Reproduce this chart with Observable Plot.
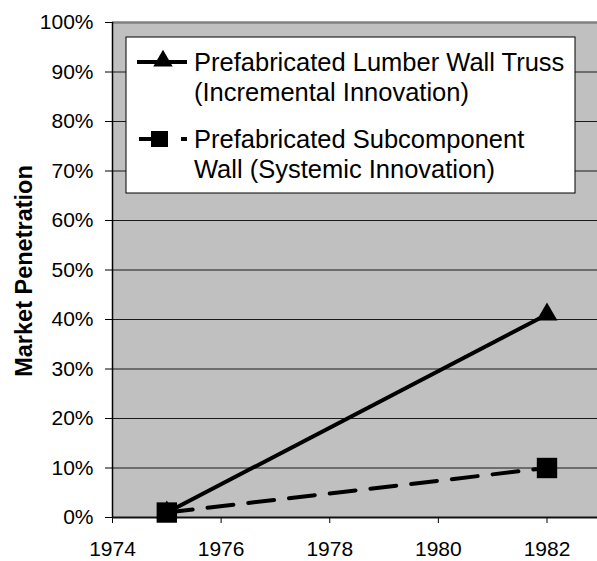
<!DOCTYPE html>
<html><head><meta charset="utf-8">
<script src="https://cdn.jsdelivr.net/npm/d3@7"></script>
<script src="https://cdn.jsdelivr.net/npm/@observablehq/plot@0.6"></script>
<style>
body{margin:0;background:#fff;}
svg{display:block;font-family:"Liberation Sans",Arial,sans-serif;}
</style>
</head><body><div id="chart"></div>
<script>
const years = [1975, 1982];
const trussValues = [0.01, 0.41];
const wallValues = [0.01, 0.10];
const legendLines1 = ["Prefabricated Lumber Wall Truss", "(Incremental Innovation)"];
const legendLines2 = ["Prefabricated Subcomponent", "Wall (Systemic Innovation)"];
const xTicks = [1974, 1976, 1978, 1980, 1982];
const yTicks = [0, 0.1, 0.2, 0.3, 0.4, 0.5, 0.6, 0.7, 0.8, 0.9, 1.0];
const yTitle = "Market Penetration";

const truss = years.map((y, i) => ({year: y, value: trussValues[i]}));
const wall = years.map((y, i) => ({year: y, value: wallValues[i]}));

const chart = Plot.plot({
  width: 597, height: 561,
  marginLeft: 112, marginRight: 0, marginTop: 22, marginBottom: 44,
  style: {fontFamily: '"Liberation Sans", Arial, sans-serif', background: "#fff"},
  x: {domain: [1974, 1982.93], label: null},
  y: {domain: [0, 1], label: null},
  marks: [
    Plot.frame({fill: "#c0c0c0", stroke: null}),
    Plot.ruleY(yTicks.filter(d => d > 0 && d < 1), {stroke: "#1a1a1a", strokeWidth: 1}),
    Plot.ruleY([1], {stroke: "#808080", strokeWidth: 2.5}),
    Plot.axisY({ticks: yTicks, tickFormat: d3.format(".0%"), tickSize: 7, tickPadding: 12, fontSize: 21, stroke: "#000", color: "#000", label: null}),
    Plot.axisX({ticks: xTicks, tickFormat: "d", tickSize: 6, tickPadding: 18, fontSize: 21, stroke: "#000", color: "#000", label: null}),
    Plot.ruleY([0], {stroke: "#111", strokeWidth: 2}),
    Plot.ruleX([1974], {stroke: "#000", strokeWidth: 1.5}),
    Plot.line(truss, {x: "year", y: "value", stroke: "#000", strokeWidth: 4}),
    Plot.line(wall, {x: "year", y: "value", stroke: "#000", strokeWidth: 4, strokeDasharray: "26,15"}),
    Plot.dot(truss, {x: "year", y: "value", symbol: "triangle", r: 7.8, fill: "#000", stroke: null}),
    Plot.dot(wall, {x: "year", y: "value", symbol: "square", r: 11.5, fill: "#000", stroke: null})
  ]
});

const svg = d3.select(chart);
// y-axis title
svg.append("text")
  .attr("transform", "translate(32,271) rotate(-90)")
  .attr("text-anchor", "middle")
  .attr("font-size", 23.5).attr("font-weight", "bold").attr("fill", "#000")
  .text(yTitle);

// legend
const lg = svg.append("g").attr("text-anchor", "start");
lg.append("rect").attr("x", 126).attr("y", 37).attr("width", 449).attr("height", 156)
  .attr("fill", "#fff").attr("stroke", "#000").attr("stroke-width", 1);
const fs = 25.5;
lg.append("line").attr("x1", 137).attr("x2", 187).attr("y1", 62).attr("y2", 62).attr("stroke", "#000").attr("stroke-width", 4);
lg.append("path").attr("transform", "translate(163,61)").attr("d", d3.symbol(d3.symbolTriangle, Math.PI * 7.2 * 7.2)()).attr("fill", "#000");
lg.append("text").attr("x", 194).attr("y", 62).attr("dy", "0.35em").attr("font-size", fs).attr("fill", "#000").attr("text-anchor", "start").text(legendLines1[0]);
lg.append("text").attr("x", 194).attr("y", 92).attr("dy", "0.35em").attr("font-size", fs).attr("fill", "#000").attr("text-anchor", "start").text(legendLines1[1]);

lg.append("line").attr("x1", 139).attr("x2", 168).attr("y1", 139).attr("y2", 139).attr("stroke", "#000").attr("stroke-width", 4);
lg.append("line").attr("x1", 181).attr("x2", 187).attr("y1", 139).attr("y2", 139).attr("stroke", "#000").attr("stroke-width", 4);
lg.append("rect").attr("x", 151).attr("y", 131).attr("width", 17).attr("height", 16).attr("fill", "#000");
lg.append("text").attr("x", 194).attr("y", 139).attr("dy", "0.35em").attr("font-size", fs).attr("fill", "#000").attr("text-anchor", "start").text(legendLines2[0]);
lg.append("text").attr("x", 194).attr("y", 169).attr("dy", "0.35em").attr("font-size", fs).attr("fill", "#000").attr("text-anchor", "start").text(legendLines2[1]);

document.getElementById("chart").append(chart);
</script>
</body></html>
